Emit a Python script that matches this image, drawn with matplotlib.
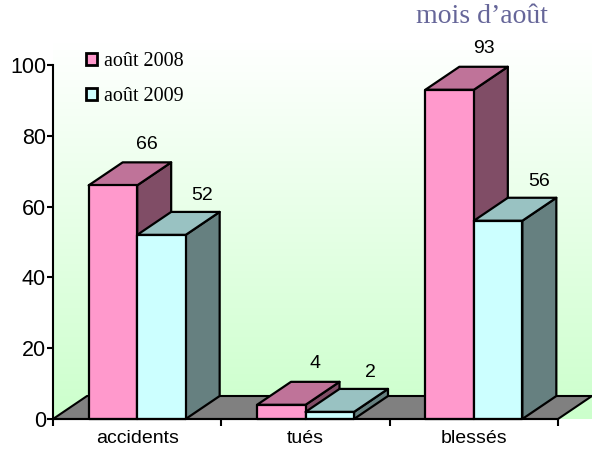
import numpy as np
import matplotlib
matplotlib.use("Agg")
import matplotlib.pyplot as plt
from matplotlib.patches import Polygon, Rectangle
from matplotlib.colors import LinearSegmentedColormap

# ---- data ----
categories = ["accidents", "tués", "blessés"]
series_names = ["août 2008", "août 2009"]
values_2008 = [66, 4, 93]
values_2009 = [52, 2, 56]
title_text = "mois d\u2019août"
yticks = [0, 20, 40, 60, 80, 100]

# ---- style ----
front_colors = ["#ff99cc", "#ccffff"]
top_colors = ["#bf7399", "#99c2c2"]
side_colors = ["#804d66", "#668080"]
floor_color = "#808080"
label_dx_px = [0, 7]
label_dy_px = [18, 16]

W, H = 592, 453
fig = plt.figure(figsize=(W / 100, H / 100), dpi=100)
fig.patch.set_facecolor("white")

# axes maps x 0..3 -> px 53..558, y 0..100 -> px 419..65
L, R, T, B = 53, 558, 65, 419
ax = fig.add_axes([L / W, 1 - B / H, (R - L) / W, (B - T) / H])
ax.set_xlim(0, len(categories))
ax.set_ylim(0, 100)
ax.set_facecolor("none")

px_per_x = (R - L) / len(categories)
px_per_y = (B - T) / 100.0
ddx = 34 / px_per_x
ddy = 23 / px_per_y

# gradient walls
ncat = len(categories)
grad = np.linspace(0, 1, 256).reshape(-1, 1)
cmap = LinearSegmentedColormap.from_list("wall", ["#ccffcc", "#ffffff"])
im = ax.imshow(grad, cmap=cmap, origin="lower", aspect="auto",
               extent=[0, ncat + ddx, 0, 100 + ddy], zorder=0, clip_on=False)
wall = Polygon([(0, 0), (ddx, ddy), (ncat + ddx, ddy), (ncat + ddx, 100 + ddy),
                (ddx, 100 + ddy), (0, 100)], closed=True, transform=ax.transData,
               facecolor="none", edgecolor="none")
ax.add_patch(wall)
im.set_clip_path(wall)

# floor
floor = Polygon([(0, 0), (ncat, 0), (ncat + ddx, ddy), (ddx, ddy)], closed=True,
                facecolor=floor_color, edgecolor="black", lw=1.5, zorder=1,
                clip_on=False, joinstyle="round")
ax.add_patch(floor)

bw = 48.5 / px_per_x
start = 0.5 - bw
lw = 1.6
for s, vals in enumerate([values_2008, values_2009]):
    for i, v in enumerate(vals):
        x0 = i + start + s * bw
        z = 2 + s
        front = Rectangle((x0, 0), bw, v, facecolor=front_colors[s],
                          edgecolor="black", lw=lw, zorder=z, clip_on=False,
                          joinstyle="round")
        top = Polygon([(x0, v), (x0 + bw, v), (x0 + bw + ddx, v + ddy), (x0 + ddx, v + ddy)],
                      closed=True, facecolor=top_colors[s], edgecolor="black", lw=lw,
                      zorder=z, clip_on=False, joinstyle="round")
        side = Polygon([(x0 + bw, 0), (x0 + bw + ddx, ddy), (x0 + bw + ddx, v + ddy), (x0 + bw, v)],
                       closed=True, facecolor=side_colors[s], edgecolor="black", lw=lw,
                       zorder=z, clip_on=False, joinstyle="round")
        ax.add_patch(side)
        ax.add_patch(top)
        ax.add_patch(front)
        ax.text(x0 + bw / 2 + ddx + label_dx_px[s] / px_per_x,
                v + ddy + label_dy_px[s] / px_per_y, str(v),
                ha="center", va="center", fontsize=14,
                family="Liberation Sans", color="black", zorder=10)

# axes styling
for sp in ["top", "right"]:
    ax.spines[sp].set_visible(False)
ax.spines["left"].set_linewidth(1.5)
ax.spines["bottom"].set_linewidth(1.5)
ax.spines["left"].set_zorder(5)
ax.spines["bottom"].set_zorder(5)
ax.set_yticks(yticks)
ax.set_yticklabels([str(t) for t in yticks], family="Liberation Sans", fontsize=15.5)
ax.tick_params(axis="y", direction="out", length=4, width=1.5, pad=1)
ax.set_xticks(np.arange(ncat + 1))
ax.set_xticklabels([""] * (ncat + 1))
ax.set_xticks(np.arange(ncat) + 0.5, minor=True)
ax.set_xticklabels(categories, minor=True, family="Liberation Sans", fontsize=14)
ax.tick_params(axis="x", which="major", direction="out", length=5, width=1.5)
ax.tick_params(axis="x", which="minor", length=0, pad=8)

# legend
handles = [Rectangle((0, 0), 1, 1, facecolor=c, edgecolor="black", lw=2) for c in front_colors]
leg = fig.legend(handles, series_names, loc="upper left",
                 bbox_to_anchor=(86 / W, 1 - 52 / H), bbox_transform=fig.transFigure,
                 frameon=False, prop={"family": "Liberation Serif", "size": 14.5},
                 handlelength=0.55, handleheight=0.55, handletextpad=0.35,
                 labelspacing=0.78, borderpad=0, borderaxespad=0)

fig.text(482 / W, 1 - 23 / H, title_text, ha="center", va="baseline",
         fontsize=20, family="Liberation Serif", color="#666699")

fig.savefig("out.png", dpi=100)
